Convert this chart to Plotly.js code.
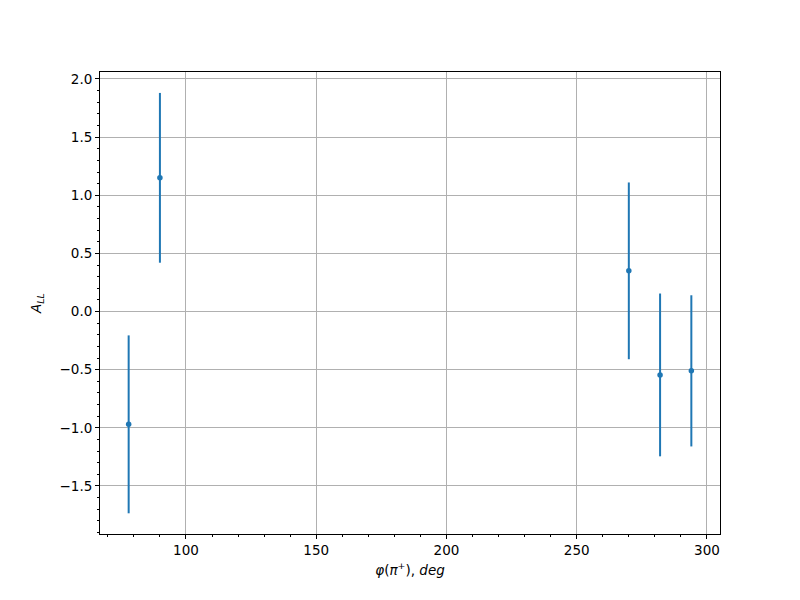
<!DOCTYPE html>
<html><head><meta charset="utf-8">
<script src="https://cdn.plot.ly/plotly-3.0.1.min.js"></script>
<style>body{margin:0;background:#fff}#plot{width:800px;height:600px}</style>
</head><body><div id="plot"></div>
<script>
const phi = [78, 90, 270, 282, 294];
const all = [-0.97, 1.15, 0.35, -0.545, -0.51];
const errs = [0.765, 0.73, 0.76, 0.70, 0.65];
const xTicks = [100, 150, 200, 250, 300];
const yTicks = [-1.5, -1.0, -0.5, 0.0, 0.5, 1.0, 1.5, 2.0];

const trace = {
  x: phi, y: all, type: 'scatter', mode: 'markers',
  marker: {color: '#1f77b4', size: 5.5},
  error_y: {type: 'data', array: errs, visible: true, color: '#1f77b4', thickness: 2, width: 0}
};
const axCommon = {
  showline: true, linecolor: '#000', linewidth: 1, mirror: true,
  ticks: 'outside', ticklen: 4, tickwidth: 1, tickcolor: '#000',
  showgrid: true, gridcolor: '#b0b0b0', gridwidth: 1, zeroline: false,
  tickfont: {family: 'DejaVu Sans', size: 13.5, color: '#000'}
};
const layout = {
  width: 800, height: 600,
  margin: {l: 100, r: 80, t: 72, b: 66},
  paper_bgcolor: '#fff', plot_bgcolor: '#fff',
  showlegend: false,
  xaxis: Object.assign({}, axCommon, {
    range: [67, 305], tickvals: xTicks, ticktext: xTicks.map(String),
    minor: {dtick: 10, tick0: 0, ticks: 'outside', ticklen: 2, tickcolor: '#000', showgrid: false},
    title: {text: '<i>φ</i>(<i>π</i><sup>+</sup>), <i>deg</i>', font: {family: 'DejaVu Sans', size: 13.5, color: '#000'}, standoff: 8}
  }),
  yaxis: Object.assign({}, axCommon, {
    range: [-1.913, 2.06], tickvals: yTicks, ticktext: yTicks.map(v => v.toFixed(1).replace('-', '\u2212')),
    minor: {dtick: 0.1, tick0: 0, ticks: 'outside', ticklen: 2, tickcolor: '#000', showgrid: false},
    title: {text: '<i>A</i><sub><i>LL</i></sub>', font: {family: 'DejaVu Sans', size: 13.5, color: '#000'}, standoff: 14}
  })
};
Plotly.newPlot('plot', [trace], layout, {displayModeBar: false});
</script></body></html>
